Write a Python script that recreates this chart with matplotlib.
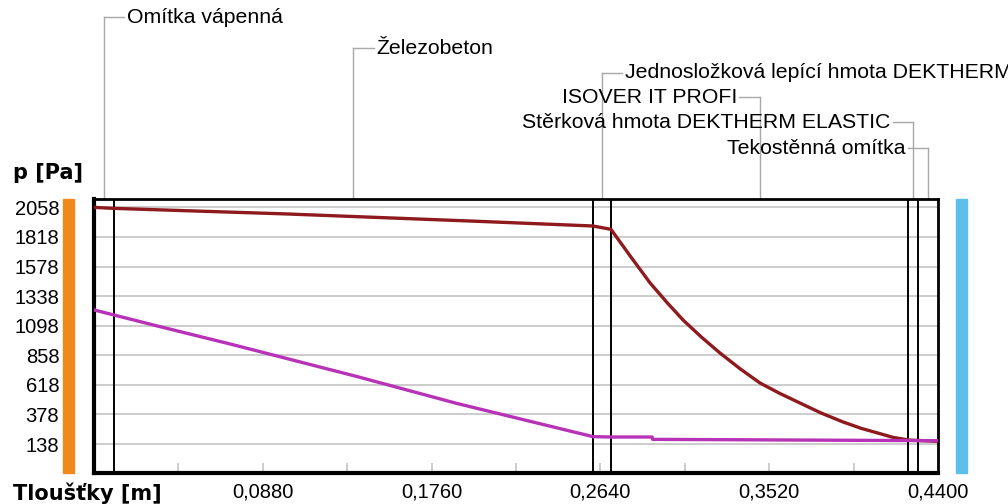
import matplotlib
matplotlib.use("Agg")
import matplotlib.pyplot as plt
import matplotlib.transforms as mtransforms

plt.rcParams["font.family"] = ["Liberation Sans", "DejaVu Sans"]

# data
layer_names = ["Omítka vápenná", "Železobeton", "Jednosložková lepící hmota DEKTHERM",
               "ISOVER IT PROFI", "Stěrková hmota DEKTHERM ELASTIC", "Tekostěnná omítka"]
layer_edges = [0.0, 0.0104, 0.2601, 0.2695, 0.4244, 0.4296, 0.44]

x_psat = [0.0, 0.0104, 0.05, 0.10, 0.15, 0.20, 0.2601, 0.2695, 0.2797, 0.2899,
          0.2985, 0.3071, 0.3167, 0.3263, 0.3367, 0.3472, 0.3576, 0.368, 0.379,
          0.3905, 0.40, 0.4098, 0.4165, 0.425, 0.44]
p_sat = [2058, 2050, 2030, 2005, 1975, 1945, 1907, 1880, 1660, 1445,
         1290, 1144, 1005, 877, 750, 633, 548, 471, 390,
         317, 265, 222, 192, 170, 160]

x_p = [0.0, 0.0327, 0.0709, 0.137, 0.189, 0.2601, 0.2695, 0.291, 0.2912, 0.44]
p = [1226, 1097, 950, 686, 468, 198, 195, 195, 176, 165]

y_ticks = [138, 378, 618, 858, 1098, 1338, 1578, 1818, 2058]
x_ticks = [0.088, 0.176, 0.264, 0.352, 0.44]
x_tick_labels = ["0,0880", "0,1760", "0,2640", "0,3520", "0,4400"]
x_minor = [0.044 * i for i in range(1, 10)]

RED = "#8e1a1e"
MAGENTA = "#b832b8"
ORANGE = "#f0891c"
BLUE = "#5cc0ea"
GRID = "#c4c4c4"
LEADER = "#a8a8a8"

fig = plt.figure(figsize=(10.08, 5.04), dpi=100)
ax = fig.add_axes([94 / 1008, 31 / 504, 844 / 1008, 274 / 504])

ax.set_xlim(0, 0.44)
ax.set_ylim(-97, 2126)

for yt in y_ticks:
    ax.axhline(yt, color=GRID, lw=1.2, zorder=1)

for xe in layer_edges[1:-1]:
    ax.axvline(xe, color="black", lw=1.4, zorder=3)

ax.plot(x_psat, p_sat, color=RED, lw=2.4, zorder=4, solid_joinstyle="round")
ax.plot(x_p, p, color=MAGENTA, lw=2.4, zorder=4, solid_joinstyle="round")

ax.set_yticks(y_ticks)
ax.set_yticklabels([str(v) for v in y_ticks])
ax.tick_params(axis="y", length=0, pad=25, labelsize=14.5)
ax.set_xticks(x_ticks)
ax.set_xticklabels(x_tick_labels)
ax.set_xticks(x_minor, minor=True)
ax.tick_params(axis="x", which="both", direction="in", length=7, color=GRID,
               width=1.2, pad=7, labelsize=14.5)

for side in ["top", "right"]:
    ax.spines[side].set_linewidth(2)
for side in ["left", "bottom"]:
    ax.spines[side].set_linewidth(3)

# side colour bars
trans_ax = ax.transAxes
ax.add_patch(plt.Rectangle((-0.0367, 0), 0.013, 1, transform=trans_ax,
                           color=ORANGE, clip_on=False))
ax.add_patch(plt.Rectangle((1.0213, 0), 0.013, 1, transform=trans_ax,
                           color=BLUE, clip_on=False))

# layer labels with leaders
blend = mtransforms.blended_transform_factory(ax.transData, ax.transAxes)
label_y = [1.664, 1.551, 1.460, 1.372, 1.281, 1.186]
label_side = [1, 1, 1, -1, -1, -1]
for i, name in enumerate(layer_names):
    cx = (layer_edges[i] + layer_edges[i + 1]) / 2
    ly = label_y[i]
    s = label_side[i]
    ax.plot([cx, cx], [1.0, ly], color=LEADER, lw=1, transform=blend, clip_on=False)
    ax.plot([cx, cx + s * 0.0105], [ly, ly], color=LEADER, lw=1,
            transform=blend, clip_on=False)
    ax.text(cx + s * 0.0118, ly, name, transform=blend, fontsize=15.3,
            ha="left" if s > 0 else "right", va="center", clip_on=False)

fig.text(13 / 1008, (504 - 173) / 504, "p [Pa]", fontsize=15, fontweight="bold",
         family="DejaVu Sans", ha="left", va="center")
fig.text(13 / 1008, (504 - 493) / 504, "Tloušťky [m]", fontsize=15, fontweight="bold",
         family="DejaVu Sans", ha="left", va="center")

fig.savefig("out.png", dpi=100, facecolor="white")
